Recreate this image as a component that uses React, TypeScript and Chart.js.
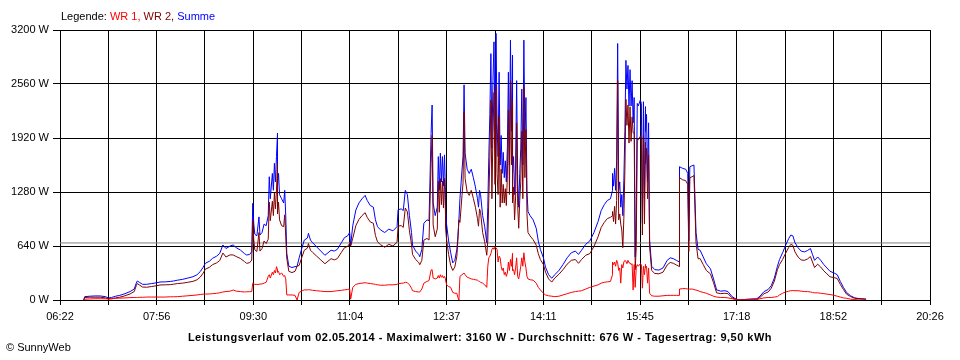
import { useEffect, useRef } from "react";
import { Chart, registerables } from "chart.js";

Chart.register(...registerables);

// Time of day in minutes since midnight
const times = [
  405, 406, 411, 416, 421, 426, 429,
  432, 436, 440, 445, 450, 454, 456, 457, 459, 462,
  466, 471, 476, 479, 484, 489, 492,
  496, 501, 506, 511, 515, 518, 521, 523, 527,
  530, 534, 537, 540, 543, 547, 550, 553, 557, 561,
  563, 566, 568, 569, 570, 571, 573, 575, 576, 578, 580, 582, 584, 585, 586, 588, 589, 590, 591, 592, 593,
  593, 594, 595, 597, 599, 600, 601, 602, 604, 607, 610, 612, 614, 617, 619, 622, 623, 625,
  627, 631, 635, 639, 642, 645, 648, 651, 655,
  658, 661, 663, 664, 666, 669, 672, 675, 678, 680, 683, 686, 688, 690,
  693, 697, 701, 705, 709, 710, 713, 715, 717, 719, 721, 723,
  724, 727, 730, 731, 733, 735, 738, 740, 742, 743, 744, 746, 748, 749, 750, 751, 752, 753, 754, 755, 756,
  756, 757, 759, 761, 763, 765, 767, 768, 769, 770, 772, 773, 774, 775, 777, 779, 781, 783, 785, 787,
  788, 789, 790, 792, 794, 796, 797, 798, 799, 800, 801, 802, 803, 804, 805, 806, 807, 808, 809, 810, 811, 812, 813, 814, 815, 816, 817, 818, 819, 820, 821,
  821, 822, 823, 824, 825, 826, 827, 828, 829, 830, 831, 832, 833, 834, 835, 836, 838, 841, 844, 846, 848, 851,
  853, 856, 859, 862, 866, 870, 874, 878, 882, 885,
  888, 892, 896, 900, 904, 907, 910, 913, 916, 918,
  918, 919, 920, 921, 922, 923, 924, 925, 926, 927, 928, 929, 930, 931, 932, 933, 934, 935, 936, 937, 938, 939, 940, 941, 942, 943, 945, 946, 947, 948, 949, 950,
  950, 951, 952, 953, 954, 956, 959, 963, 967, 971, 974, 977, 980, 983,
  983, 986, 989, 991, 992, 993, 995, 997, 998, 999, 1001, 1003, 1006, 1009, 1013,
  1016, 1019, 1023, 1027, 1030, 1034, 1038, 1042,
  1049, 1058, 1061, 1065, 1069, 1072, 1075, 1078,
  1080, 1083, 1086, 1089, 1091, 1093, 1095, 1098, 1101, 1104, 1107, 1110, 1112,
  1114, 1117, 1120, 1123, 1126, 1129, 1133, 1136, 1139, 1142,
  1145, 1149, 1153, 1158, 1164,
];

// WR 1 (W)
const wr1 = [
  0, 10, 12, 15, 15, 15, 10,
  15, 20, 22, 25, 28, 30, 30, 30, 32, 32,
  35, 35, 35, 35, 35, 38, 38,
  40, 45, 50, 55, 60, 65, 70, 70, 72,
  75, 80, 85, 95, 100, 105, 118, 105, 100, 95,
  98, 98, 100, 200, 190, 185, 185, 185, 190, 190, 200, 210, 280, 300, 260, 330, 300, 350, 320, 395, 360,
  330, 340, 300, 320, 280, 290, 250, 60, 60, 60, 55, 0, 90, 110, 120, 120, 122, 120,
  115, 110, 105, 100, 100, 100, 105, 110, 115,
  120, 125, 130, 10, 150, 185, 195, 200, 205, 200, 195, 190, 185, 180,
  175, 175, 180, 180, 185, 195, 198, 200, 210, 205, 180, 140,
  110, 100, 95, 95, 130, 200, 220, 230, 355, 360, 260, 250, 260, 290, 260, 300, 270, 290, 260, 280, 250,
  240, 180, 160, 150, 90, 80, 80, 30, 0, 280, 300, 310, 320, 300, 270, 260, 250, 245, 240, 235,
  225, 220, 210, 200, 180, 150, 400, 500, 520, 550, 600, 620, 600, 630, 620, 600, 450, 520, 500, 400, 350, 380, 300, 330, 280, 320, 450, 350, 480, 400, 550,
  350, 360, 300, 380, 500, 280, 250, 320, 400, 500, 400, 560, 450, 380, 280, 250, 240, 235, 200, 150, 120, 80,
  60, 50, 45, 40, 45, 60, 75, 90, 100, 105,
  110, 130, 150, 165, 180, 200, 210, 215, 220, 300,
  450, 420, 450, 400, 470, 440, 350, 380, 200, 420, 380, 450, 470, 460, 430, 470, 440, 440, 420, 430, 118, 420, 150, 380, 420, 400, 430, 420, 140, 400, 300, 420,
  380, 400, 200, 380, 80, 50, 45, 45, 50, 55, 55, 55, 55, 55,
  130, 135, 135, 130, 125, 130, 130, 125, 120, 118, 110, 100, 90, 80, 60,
  45, 35, 30, 30, 25, 15, 5, 0,
  5, 5, 15, 25, 30, 30, 35, 40,
  60, 80, 95, 105, 110, 112, 110, 110, 105, 100, 100, 95, 90,
  85, 85, 80, 75, 70, 65, 55, 45, 35, 25,
  20, 10, 5, 0, 0,
];

// WR 2 (W)
const wr2 = [
  0, 30, 33, 33, 33, 25, 15,
  15, 25, 33, 50, 72, 100, 170, 195, 178, 154,
  151, 160, 170, 178, 180, 182, 187,
  195, 200, 210, 221, 240, 271, 320, 365, 388,
  419, 440, 468, 557, 510, 535, 534, 515, 492, 455,
  435, 442, 473, 946, 710, 595, 575, 800, 580, 610, 700, 670, 720, 1161, 940, 1170, 1000, 1270, 1080, 1305, 1615,
  1020, 1160, 950, 880, 870, 1010, 750, 493, 340, 325, 340, 400, 410, 520, 590, 615, 668, 590,
  565, 520, 475, 430, 460, 490, 475, 490, 565,
  620, 635, 670, 640, 730, 881, 955, 1000, 1035, 980, 925, 910, 765, 690,
  655, 625, 660, 640, 685, 875, 882, 860, 1090, 1045, 820, 660,
  540, 480, 445, 418, 470, 710, 730, 710, 1620, 1951, 890, 750, 840, 1410, 1040, 1440, 1130, 1410, 1090, 1440, 1000,
  860, 720, 540, 410, 350, 390, 520, 720, 950, 920, 1240, 1390, 2230, 1440, 1280, 1240, 1300, 1205, 1100, 965,
  875, 1080, 1040, 800, 690, 530, 700, 1200, 1680, 2370, 1200, 1980, 2460, 1370, 2540, 1500, 1250, 2180, 1100, 1550, 1150, 1370, 1150, 1320, 1120, 1480, 2250, 1250, 2600, 1600, 2350,
  1150, 1340, 950, 1220, 2100, 1120, 850, 1180, 1400, 2000, 1200, 2520, 1450, 2020, 1020, 800, 760, 715, 650, 550, 480, 420,
  330, 250, 212, 260, 305, 360, 425, 470, 480, 435,
  480, 530, 550, 635, 750, 860, 920, 965, 980, 1000,
  1050, 930, 1110, 900, 1180, 2600, 950, 1020, 900, 830, 620, 970, 1530, 2380, 2070, 2310, 1860, 2290, 1880, 2170, 1980, 1980, 360, 620, 1910, 1900, 1940, 1910, 770, 1950, 900, 1870,
  1620, 1800, 1200, 1720, 630, 350, 315, 310, 330, 415, 445, 435, 415, 395,
  1450, 1425, 1415, 1370, 575, 1450, 1460, 1475, 1080, 682, 490, 490, 420, 350, 310,
  205, 85, 75, 80, 75, 25, 5, 0,
  5, 10, 30, 75, 95, 140, 225, 360,
  420, 480, 555, 625, 660, 648, 570, 510, 475, 470, 485, 515, 450,
  385, 425, 390, 345, 310, 275, 265, 255, 185, 125,
  70, 40, 20, 15, 10,
];

// Summe (W)
const summe = [
  0, 40, 45, 48, 48, 40, 25,
  30, 45, 55, 75, 100, 130, 200, 225, 210, 186,
  186, 195, 205, 213, 215, 220, 225,
  235, 245, 260, 276, 300, 336, 390, 435, 460,
  494, 520, 553, 652, 610, 640, 652, 620, 592, 550,
  533, 540, 573, 1146, 900, 780, 760, 985, 770, 800, 900, 880, 1000, 1461, 1200, 1500, 1300, 1620, 1400, 1700, 1975,
  1350, 1500, 1250, 1200, 1150, 1300, 1000, 553, 400, 385, 395, 400, 500, 630, 710, 735, 790, 710,
  680, 630, 580, 530, 560, 590, 580, 600, 680,
  740, 760, 800, 650, 880, 1066, 1150, 1200, 1240, 1180, 1120, 1100, 950, 870,
  830, 800, 840, 820, 870, 1070, 1080, 1060, 1300, 1250, 1000, 800,
  650, 580, 540, 513, 600, 910, 950, 940, 1975, 2311, 1150, 1000, 1100, 1700, 1300, 1740, 1400, 1700, 1350, 1720, 1250,
  1100, 900, 700, 560, 440, 470, 600, 750, 950, 1200, 1540, 1700, 2550, 1740, 1550, 1500, 1550, 1450, 1340, 1200,
  1100, 1300, 1250, 1000, 870, 680, 1100, 1700, 2200, 2920, 1800, 2600, 3060, 2000, 3160, 2100, 1700, 2700, 1600, 1950, 1500, 1750, 1450, 1650, 1400, 1800, 2700, 1600, 3080, 2000, 2900,
  1500, 1700, 1250, 1600, 2600, 1400, 1100, 1500, 1800, 2500, 1600, 3080, 1900, 2400, 1300, 1050, 1000, 950, 850, 700, 600, 500,
  390, 300, 257, 300, 350, 420, 500, 560, 580, 540,
  590, 660, 700, 800, 930, 1060, 1130, 1180, 1200, 1300,
  1500, 1350, 1560, 1300, 1650, 3040, 1300, 1400, 1100, 1250, 1000, 1420, 2000, 2840, 2500, 2780, 2300, 2730, 2300, 2600, 2100, 2400, 510, 1000, 2330, 2300, 2370, 2330, 910, 2350, 1200, 2290,
  2000, 2200, 1400, 2100, 710, 400, 360, 355, 380, 470, 500, 490, 470, 450,
  1580, 1560, 1550, 1500, 700, 1580, 1590, 1600, 1200, 800, 600, 590, 510, 430, 370,
  250, 120, 105, 110, 100, 40, 10, 0,
  10, 15, 45, 100, 125, 170, 260, 400,
  480, 560, 650, 730, 770, 760, 680, 620, 580, 570, 585, 610, 540,
  470, 510, 470, 420, 380, 340, 320, 300, 220, 150,
  90, 50, 25, 15, 10,
];

const xTickLabels = ["06:22", "07:56", "09:30", "11:04", "12:37", "14:11", "15:45", "17:18", "18:52", "20:26"];
const xStart = 382; // 06:22
const xEnd = 1226; // 20:26
const yMax = 3200;
const yStep = 640;
const averageW = 676;

const seriesNames = ["WR 1", "WR 2", "Summe"];
const seriesColors = ["#ff0000", "#800000", "#0000ff"];

const titleText =
  "Leistungsverlauf vom 02.05.2014 - Maximalwert: 3160 W - Durchschnitt: 676 W - Tagesertrag: 9,50 kWh";

const FONT = '"Liberation Sans", Arial, sans-serif';

export default function App() {
  const canvasRef = useRef<HTMLCanvasElement | null>(null);

  useEffect(() => {
    document.body.style.margin = "0";
    const canvas = canvasRef.current;
    if (!canvas) return;
    const toPts = (vals: number[]) => times.map((t, i) => ({ x: t, y: vals[i] }));
    const gridCount = (xTickLabels.length - 1) * 2;

    const chart = new Chart(canvas, {
      type: "line",
      data: {
        datasets: [
          { label: seriesNames[0], data: toPts(wr1), borderColor: seriesColors[0] },
          { label: seriesNames[1], data: toPts(wr2), borderColor: seriesColors[1] },
          { label: seriesNames[2], data: toPts(summe), borderColor: seriesColors[2] },
          {
            label: "Durchschnitt",
            data: [
              { x: xStart, y: averageW },
              { x: xEnd, y: averageW },
            ],
            borderColor: "#808080",
          },
        ],
      },
      options: {
        animation: false,
        responsive: false,
        maintainAspectRatio: false,
        parsing: true,
        normalized: true,
        datasets: {
          line: {
            borderWidth: 1,
            pointRadius: 0,
            pointHoverRadius: 0,
            tension: 0,
            fill: false,
            spanGaps: true,
          },
        },
        layout: { padding: { top: 30, right: 30, left: 0, bottom: 0 } },
        plugins: {
          legend: { display: false },
          tooltip: { enabled: false },
          title: { display: false },
        },
        scales: {
          x: {
            type: "linear",
            min: xStart,
            max: xEnd,
            afterBuildTicks: (scale: any) => {
              const ticks = [];
              for (let i = 0; i <= gridCount; i++) {
                ticks.push({ value: xStart + ((xEnd - xStart) * i) / gridCount });
              }
              scale.ticks = ticks;
            },
            afterFit: (scale: any) => {
              scale.height = 60;
            },
            ticks: {
              autoSkip: false,
              maxRotation: 0,
              minRotation: 0,
              padding: 5,
              color: "#000",
              font: { family: FONT, size: 11 },
              callback: (_v: any, index: number) => (index % 2 === 0 ? xTickLabels[index / 2] : ""),
            },
            grid: {
              color: "#000",
              lineWidth: 1,
              tickLength: 5,
              tickColor: "#000",
              drawTicks: true,
            },
            border: { color: "#000", width: 1 },
          },
          y: {
            type: "linear",
            min: 0,
            max: yMax,
            afterFit: (scale: any) => {
              scale.width = 60;
            },
            ticks: {
              stepSize: yStep,
              padding: 4,
              color: "#000",
              font: { family: FONT, size: 11 },
              callback: (v: any) => `${v} W`,
            },
            grid: {
              color: "#000",
              lineWidth: 1,
              tickLength: 7,
              tickColor: "#000",
              drawTicks: true,
            },
            border: { color: "#000", width: 1 },
          },
        },
      },
    });
    return () => chart.destroy();
  }, []);

  return (
    <div style={{ position: "relative", width: 960, height: 360, background: "#fff", overflow: "hidden" }}>
      <canvas ref={canvasRef} width={960} height={360} style={{ position: "absolute", left: 0, top: 0, width: 960, height: 360 }} />
      <div
        style={{
          position: "absolute",
          left: 61,
          top: 10,
          font: `11px ${FONT}`,
          lineHeight: "13px",
          whiteSpace: "nowrap",
          color: "#000",
        }}
      >
        Legende: <span style={{ color: seriesColors[0] }}>{seriesNames[0]},</span>{" "}
        <span style={{ color: seriesColors[1] }}>{seriesNames[1]},</span>{" "}
        <span style={{ color: seriesColors[2] }}>{seriesNames[2]}</span>
      </div>
      <div
        style={{
          position: "absolute",
          left: 0,
          width: 960,
          top: 331,
          textAlign: "center",
          font: `bold 11px ${FONT}`,
          letterSpacing: "0.5px",
          lineHeight: "13px",
          whiteSpace: "nowrap",
          color: "#000",
        }}
      >
        {titleText}
      </div>
      <div
        style={{
          position: "absolute",
          left: 6,
          top: 341,
          font: `11px ${FONT}`,
          lineHeight: "13px",
          whiteSpace: "nowrap",
          color: "#000",
        }}
      >
        © SunnyWeb
      </div>
    </div>
  );
}
